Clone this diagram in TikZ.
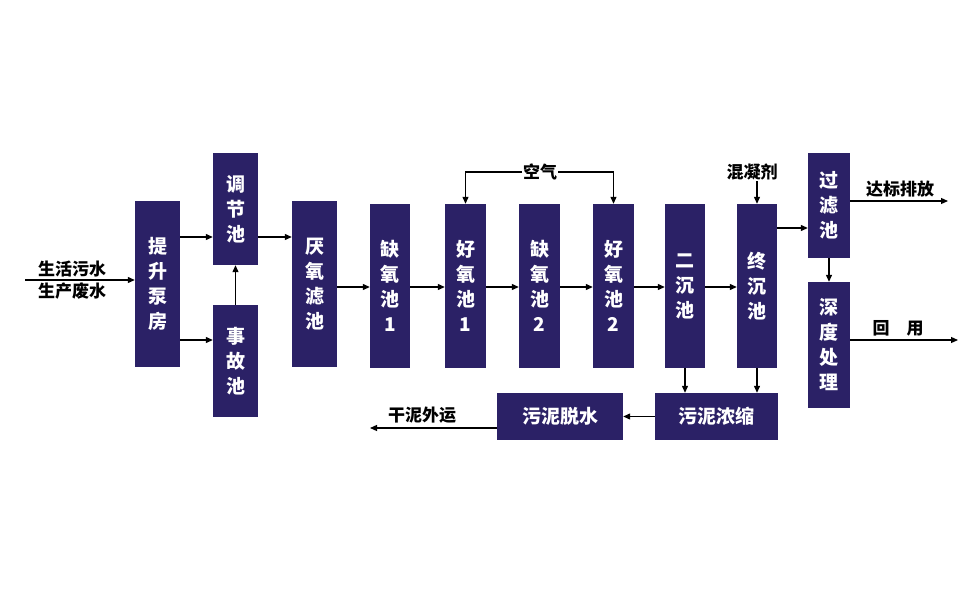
\documentclass[tikz,border=0pt]{standalone}
\usepackage{fontspec}
\setmainfont{Noto Sans CJK SC}
\usetikzlibrary{arrows.meta}
\definecolor{nv}{HTML}{2B2166}
\begin{document}
\begin{tikzpicture}[x=1pt,y=-1pt,
 bx/.style={fill=nv,text=white,font=\fontsize{19}{25}\selectfont\bfseries,inner sep=0pt,align=center},
 lbl/.style={font=\fontsize{17}{20}\selectfont\bfseries,inner sep=1pt},
 ar/.style={-{Triangle[length=7pt,width=6pt]},line width=1.2pt}]
\useasboundingbox (0,0) rectangle (969,599);
\newcommand{\bxn}[6]{\node[bx,minimum width=#4-#2,minimum height=#5-#3] (#1) at ({(#2+#4)/2},{(#3+#5)/2}) {#6};}
\bxn{a}{135}{201}{180}{367}{提\\升\\泵\\房}
\bxn{b}{213}{153}{258}{265}{调\\节\\池}
\bxn{c}{213}{305}{258}{417}{事\\故\\池}
\bxn{d}{292}{201}{337}{367}{厌\\氧\\滤\\池}
\bxn{e}{370}{204}{410}{368}{缺\\氧\\池\\1}
\bxn{f}{445}{204}{486}{368}{好\\氧\\池\\1}
\bxn{g}{519}{204}{560}{368}{缺\\氧\\池\\2}
\bxn{h}{593}{204}{634}{368}{好\\氧\\池\\2}
\bxn{i}{665}{204}{705}{368}{二\\沉\\池}
\bxn{j}{737}{204}{777}{368}{终\\沉\\池}
\bxn{k}{808}{153}{850}{258}{过\\滤\\池}
\bxn{l}{808}{282}{850}{408}{深\\度\\处\\理}
\bxn{m}{655}{393}{778}{440}{污泥浓缩}
\bxn{n}{497}{393}{623}{440}{污泥脱水}
\coordinate (in) at (25,280);
\node[lbl,anchor=south] (t1) at (72,278) {生活污水};
\node[lbl,anchor=north] (t2) at (72,282) {生产废水};
\draw[ar] (in) -- (a.west|-in);
\draw[ar] (a.east|-0,237) -- (b.west|-0,237);
\draw[ar] (a.east|-0,340) -- (c.west|-0,340);
\draw[ar] (c.north) -- (b.south);
\draw[ar] (b.east|-0,237) -- (d.west|-0,237);
\draw[ar] (d.east|-0,287) -- (e.west|-0,287);
\draw[ar] (e.east|-0,287) -- (f.west|-0,287);
\draw[ar] (f.east|-0,287) -- (g.west|-0,287);
\draw[ar] (g.east|-0,287) -- (h.west|-0,287);
\draw[ar] (h.east|-0,287) -- (i.west|-0,287);
\draw[ar] (i.east|-0,287) -- (j.west|-0,287);
\node[lbl,fill=white] (air) at (540,172) {空气};
\draw[ar] (air.west) -| (f.north);
\draw[ar] (air.east) -| (h.north);
\node[lbl] (coag) at (752,172) {混凝剂};
\draw[ar] (coag.south-|j.north) -- (j.north);
\draw[ar] (j.east|-0,228) -- (k.west|-0,228);
\coordinate (out1) at (948,201);
\node[lbl,anchor=south] (t3) at (900,198) {达标排放};
\draw[ar] (k.east|-out1) -- (out1);
\draw[ar] (k.south) -- (l.north);
\coordinate (out2) at (958,340);
\node[lbl,anchor=south] (t4) at (898,337) {回\quad 用};
\draw[ar] (l.east|-out2) -- (out2);
\draw[ar] (i.south-|685,0) -- (m.north-|685,0);
\draw[ar] (j.south-|757,0) -- (m.north-|757,0);
\draw[ar] (m.west) -- (n.east);
\coordinate (out3) at (370,428);
\node[lbl,anchor=south] (t5) at (422,425) {干泥外运};
\draw[ar] (n.west|-out3) -- (out3);
\end{tikzpicture}
\end{document}
